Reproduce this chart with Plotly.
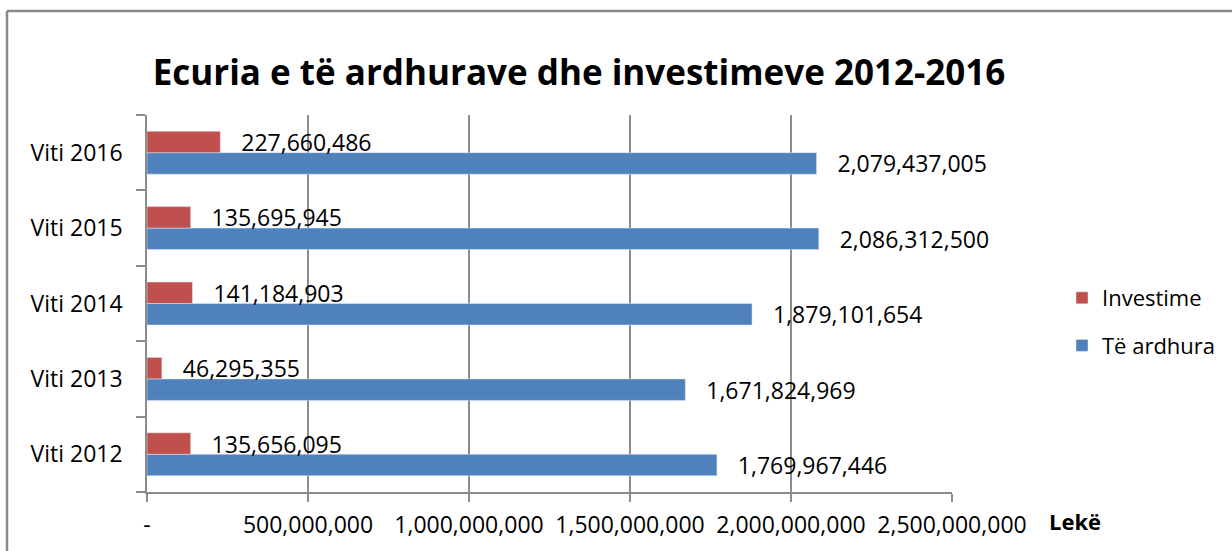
import plotly.graph_objects as go

years = ["Viti 2012", "Viti 2013", "Viti 2014", "Viti 2015", "Viti 2016"]
te_ardhura = [1769967446, 1671824969, 1879101654, 2086312500, 2079437005]
investime = [135656095, 46295355, 141184903, 135695945, 227660486]
tick_vals = [0, 500000000, 1000000000, 1500000000, 2000000000, 2500000000]
tick_text = ["-", "500,000,000", "1,000,000,000", "1,500,000,000", "2,000,000,000", "2,500,000,000"]

FONT = "Open Sans"
GRID = "#8c8c8c"

W, H = 1232, 551
ML, MR, MT, MB = 147, 280, 115, 59
PW, PH = W - ML - MR, H - MT - MB

def px(x):
    return (x - ML) / PW

def py(y):
    return (H - MB - y) / PH

label_tpl = "\u00a0\u00a0\u00a0%{x:,}"

fig = go.Figure()
fig.add_trace(go.Bar(
    y=years, x=te_ardhura, orientation="h", name="Të ardhura",
    marker=dict(color="#4F81BD"), legendgroup="b", legendrank=2,
    texttemplate=label_tpl, textposition="outside",
    outsidetextfont=dict(family=FONT, size=23, color="black"),
    constraintext="none", cliponaxis=False, hoverinfo="skip",
))
fig.add_trace(go.Bar(
    y=years, x=investime, orientation="h", name="Investime",
    marker=dict(color="#C0504D"), legendgroup="a", legendrank=1,
    texttemplate=label_tpl, textposition="outside",
    outsidetextfont=dict(family=FONT, size=23, color="black"),
    constraintext="none", cliponaxis=False, hoverinfo="skip",
))

fig.update_layout(
    width=W, height=H,
    margin=dict(l=ML, r=MR, t=MT, b=MB, autoexpand=False),
    paper_bgcolor="white", plot_bgcolor="white",
    barmode="group", bargap=0.43, bargroupgap=0,
    font=dict(family=FONT, size=23, color="black"),
    title=dict(text="<b>Ecuria e të ardhurave dhe investimeve 2012-2016</b>",
               font=dict(family=FONT, size=35, color="black"),
               x=579 / W, xanchor="center", y=1 - 73 / H, yanchor="middle"),
    showlegend=True,
    legend=dict(traceorder="grouped", tracegroupgap=16,
                font=dict(family=FONT, size=22, color="black"),
                x=px(1062), xanchor="left", y=py(322), yanchor="middle",
                bgcolor="rgba(0,0,0,0)"),
    xaxis=dict(range=[0, 2500000000], tickvals=tick_vals, ticktext=tick_text,
               showgrid=True, gridcolor=GRID, gridwidth=1.5,
               showline=True, linecolor=GRID, linewidth=1.5,
               ticks="outside", ticklen=8, tickcolor=GRID, tickwidth=1.5,
               ticklabelstandoff=4, zeroline=False, automargin=False,
               tickfont=dict(family=FONT, size=23, color="black")),
    yaxis=dict(showgrid=False, showline=True, linecolor=GRID, linewidth=1.5,
               ticks="outside", ticklen=9, tickcolor=GRID, tickwidth=1.5,
               tickson="boundaries", ticklabelstandoff=18, automargin=False,
               tickfont=dict(family=FONT, size=23, color="black")),
    annotations=[dict(text="<b>Lekë</b>", xref="paper", yref="paper",
                      x=px(1075), y=py(521), xanchor="center", yanchor="middle",
                      showarrow=False,
                      font=dict(family=FONT, size=22, color="black"))],
    shapes=[
        dict(type="line", xref="paper", yref="paper",
             x0=px(7), x1=px(W + 20), y0=py(11), y1=py(11),
             line=dict(color="#8a8a8a", width=2.5)),
        dict(type="line", xref="paper", yref="paper",
             x0=px(7), x1=px(7), y0=py(11), y1=py(H + 20),
             line=dict(color="#8a8a8a", width=2.5)),
    ],
)

fig.write_html("out.html", config={"displayModeBar": False},
               post_script="document.body.style.margin='0';document.body.style.overflow='hidden';")
